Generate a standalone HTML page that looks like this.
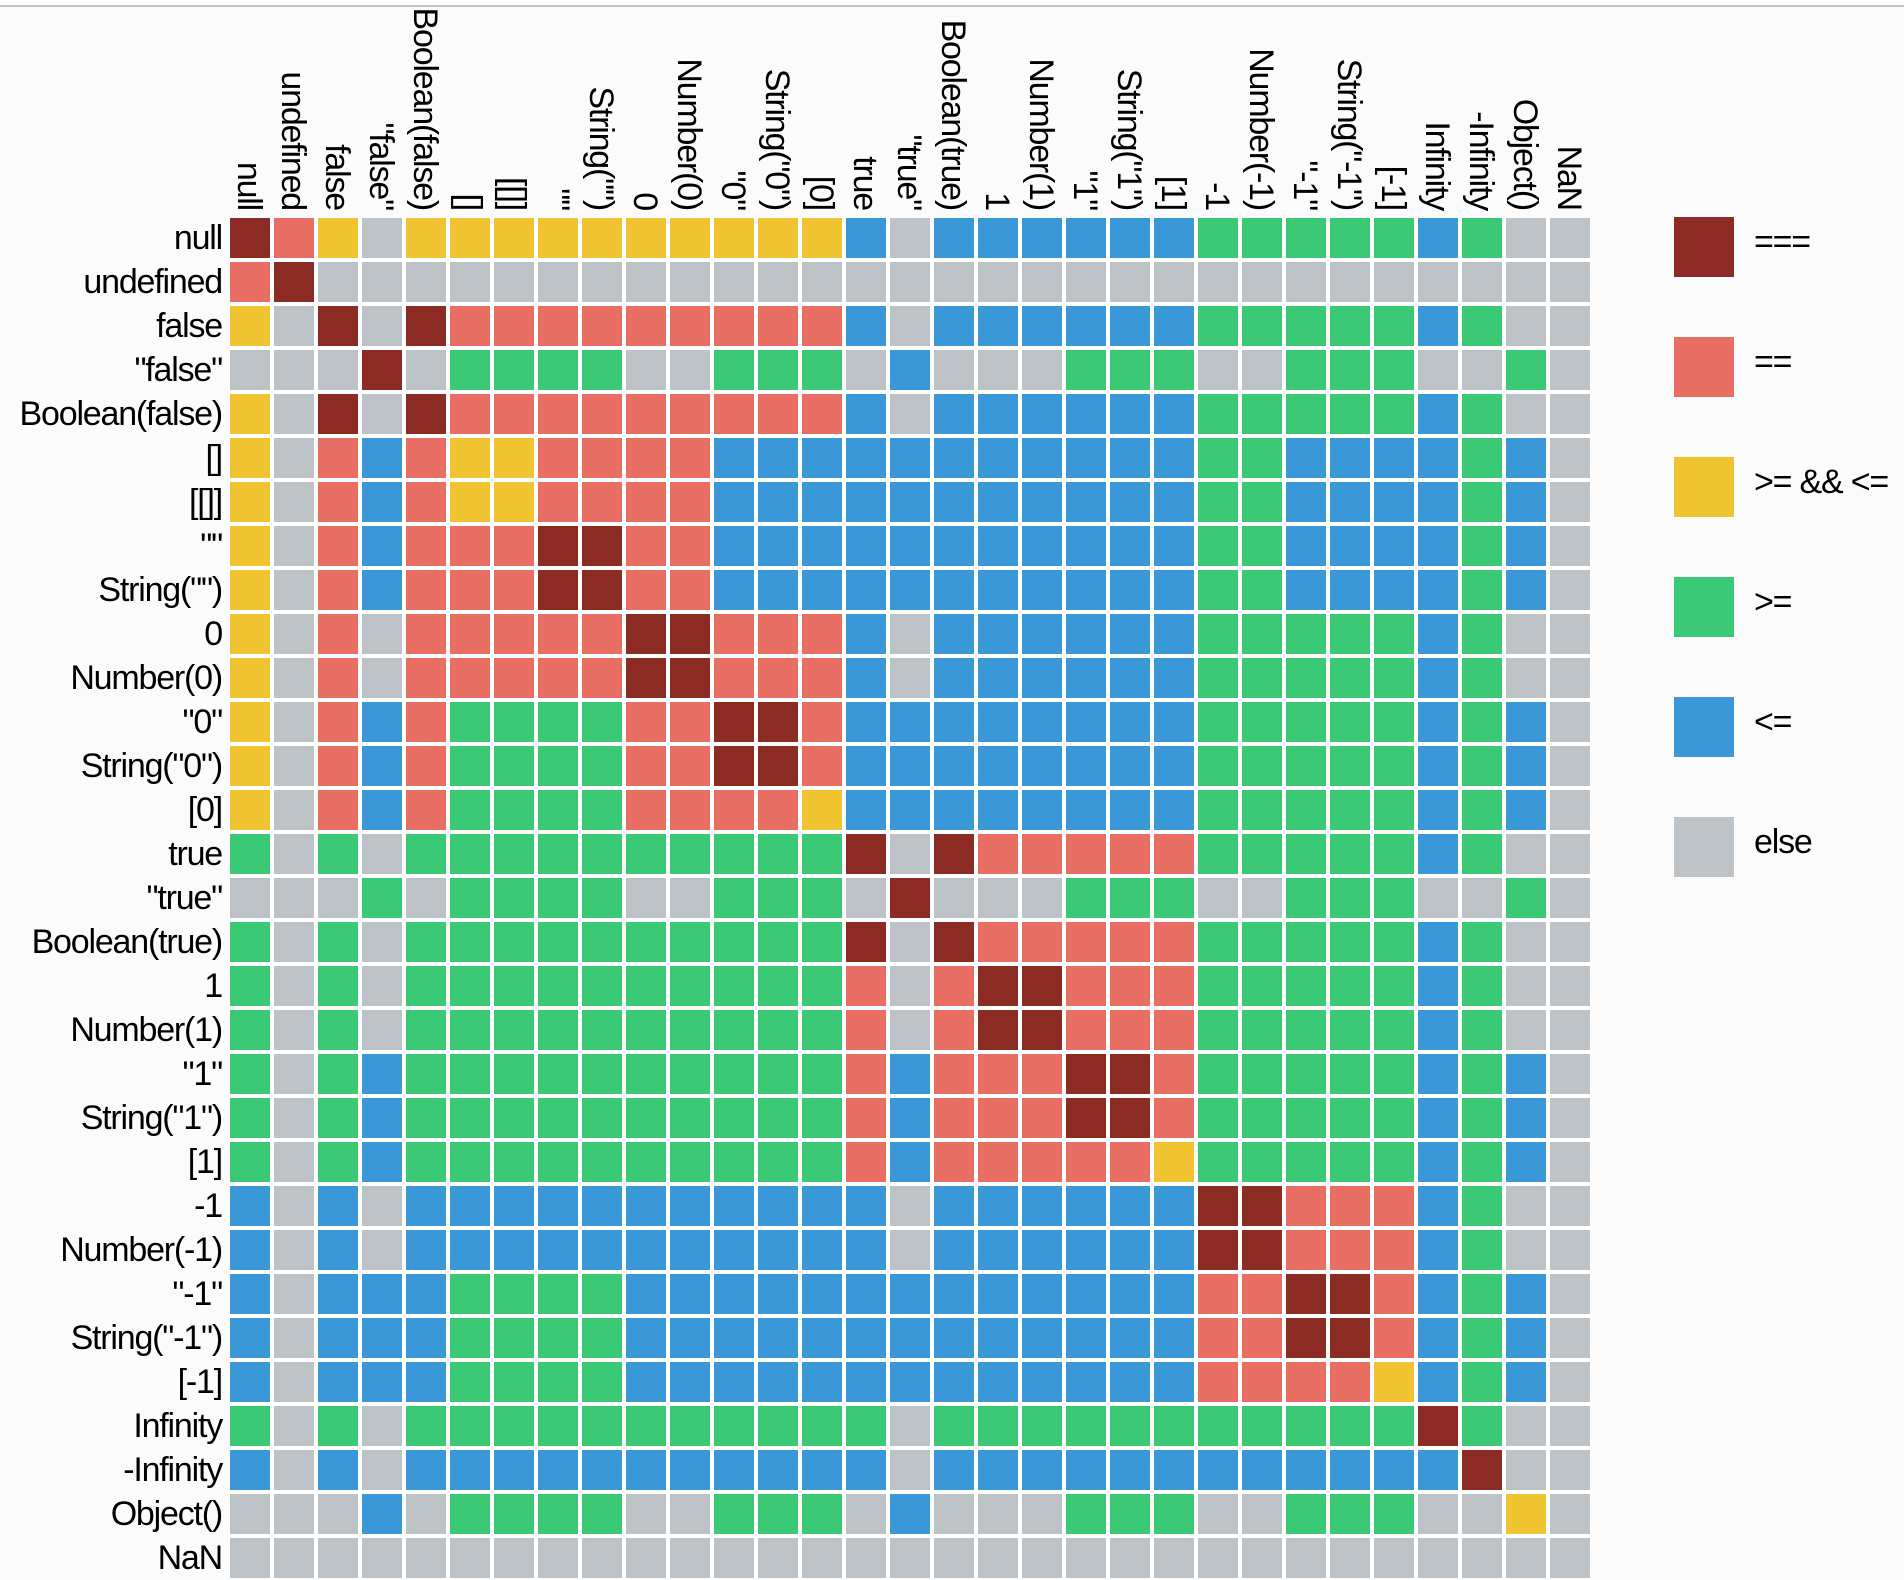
<!DOCTYPE html>
<html><head><meta charset="utf-8"><style>
html,body{margin:0;padding:0;}
body{width:1904px;height:1580px;background:#fbfbfb;position:relative;overflow:hidden;font-family:"Liberation Sans",Arial,sans-serif;color:#000;}
.top{position:absolute;left:0;top:0;width:1904px;height:5px;background:#fff;}
.line{position:absolute;left:0;top:5px;width:1904px;height:2px;background:#c2c2c2;}
.grid{position:absolute;left:230px;top:218px;width:1360px;height:1360px;background:#fff;display:grid;grid-template-columns:repeat(31,40px);grid-auto-rows:40px;gap:4px;}
.grid i{display:block;width:40px;height:40px;}
.D{background:#8c2a24}.R{background:#e86d63}.Y{background:#f0c330}.G{background:#3cc975}.B{background:#3a98d8}.X{background:#bdc3c7}
.rl{position:absolute;left:0;width:222px;height:40px;line-height:40px;text-align:right;font-size:34px;letter-spacing:-1.2px;white-space:nowrap;}
.cl{position:absolute;width:220px;height:40px;line-height:40px;text-align:right;font-size:34px;letter-spacing:-1.2px;white-space:nowrap;transform-origin:0 0;transform:rotate(90deg);}
.sw{position:absolute;left:1674px;width:60px;height:60px;}
.lt{position:absolute;left:1754px;height:50px;line-height:50px;font-size:34px;letter-spacing:-1.2px;white-space:nowrap;}
</style></head><body>
<div class="top"></div><div class="line"></div>

<!-- column labels: left = 230+44j+38.5, top = 210-220 = -10 -->
<div class="cl" style="left:268.5px;top:-10px">null</div>
<div class="cl" style="left:312.5px;top:-10px">undefined</div>
<div class="cl" style="left:356.5px;top:-10px">false</div>
<div class="cl" style="left:400.5px;top:-10px">"false"</div>
<div class="cl" style="left:444.5px;top:-10px">Boolean(false)</div>
<div class="cl" style="left:488.5px;top:-10px">[]</div>
<div class="cl" style="left:532.5px;top:-10px">[[]]</div>
<div class="cl" style="left:576.5px;top:-10px">""</div>
<div class="cl" style="left:620.5px;top:-10px">String("")</div>
<div class="cl" style="left:664.5px;top:-10px">0</div>
<div class="cl" style="left:708.5px;top:-10px">Number(0)</div>
<div class="cl" style="left:752.5px;top:-10px">"0"</div>
<div class="cl" style="left:796.5px;top:-10px">String("0")</div>
<div class="cl" style="left:840.5px;top:-10px">[0]</div>
<div class="cl" style="left:884.5px;top:-10px">true</div>
<div class="cl" style="left:928.5px;top:-10px">"true"</div>
<div class="cl" style="left:972.5px;top:-10px">Boolean(true)</div>
<div class="cl" style="left:1016.5px;top:-10px">1</div>
<div class="cl" style="left:1060.5px;top:-10px">Number(1)</div>
<div class="cl" style="left:1104.5px;top:-10px">"1"</div>
<div class="cl" style="left:1148.5px;top:-10px">String("1")</div>
<div class="cl" style="left:1192.5px;top:-10px">[1]</div>
<div class="cl" style="left:1236.5px;top:-10px">-1</div>
<div class="cl" style="left:1280.5px;top:-10px">Number(-1)</div>
<div class="cl" style="left:1324.5px;top:-10px">"-1"</div>
<div class="cl" style="left:1368.5px;top:-10px">String("-1")</div>
<div class="cl" style="left:1412.5px;top:-10px">[-1]</div>
<div class="cl" style="left:1456.5px;top:-10px">Infinity</div>
<div class="cl" style="left:1500.5px;top:-10px">-Infinity</div>
<div class="cl" style="left:1544.5px;top:-10px">Object()</div>
<div class="cl" style="left:1588.5px;top:-10px">NaN</div>

<!-- row labels: top = 218+44i -->
<div class="rl" style="top:218px">null</div>
<div class="rl" style="top:262px">undefined</div>
<div class="rl" style="top:306px">false</div>
<div class="rl" style="top:350px">"false"</div>
<div class="rl" style="top:394px">Boolean(false)</div>
<div class="rl" style="top:438px">[]</div>
<div class="rl" style="top:482px">[[]]</div>
<div class="rl" style="top:526px">""</div>
<div class="rl" style="top:570px">String("")</div>
<div class="rl" style="top:614px">0</div>
<div class="rl" style="top:658px">Number(0)</div>
<div class="rl" style="top:702px">"0"</div>
<div class="rl" style="top:746px">String("0")</div>
<div class="rl" style="top:790px">[0]</div>
<div class="rl" style="top:834px">true</div>
<div class="rl" style="top:878px">"true"</div>
<div class="rl" style="top:922px">Boolean(true)</div>
<div class="rl" style="top:966px">1</div>
<div class="rl" style="top:1010px">Number(1)</div>
<div class="rl" style="top:1054px">"1"</div>
<div class="rl" style="top:1098px">String("1")</div>
<div class="rl" style="top:1142px">[1]</div>
<div class="rl" style="top:1186px">-1</div>
<div class="rl" style="top:1230px">Number(-1)</div>
<div class="rl" style="top:1274px">"-1"</div>
<div class="rl" style="top:1318px">String("-1")</div>
<div class="rl" style="top:1362px">[-1]</div>
<div class="rl" style="top:1406px">Infinity</div>
<div class="rl" style="top:1450px">-Infinity</div>
<div class="rl" style="top:1494px">Object()</div>
<div class="rl" style="top:1538px">NaN</div>

<div class="grid">
<!-- null -->
<i class="D"></i><i class="R"></i><i class="Y"></i><i class="X"></i><i class="Y"></i><i class="Y"></i><i class="Y"></i><i class="Y"></i><i class="Y"></i><i class="Y"></i><i class="Y"></i><i class="Y"></i><i class="Y"></i><i class="Y"></i><i class="B"></i><i class="X"></i><i class="B"></i><i class="B"></i><i class="B"></i><i class="B"></i><i class="B"></i><i class="B"></i><i class="G"></i><i class="G"></i><i class="G"></i><i class="G"></i><i class="G"></i><i class="B"></i><i class="G"></i><i class="X"></i><i class="X"></i>
<!-- undefined -->
<i class="R"></i><i class="D"></i><i class="X"></i><i class="X"></i><i class="X"></i><i class="X"></i><i class="X"></i><i class="X"></i><i class="X"></i><i class="X"></i><i class="X"></i><i class="X"></i><i class="X"></i><i class="X"></i><i class="X"></i><i class="X"></i><i class="X"></i><i class="X"></i><i class="X"></i><i class="X"></i><i class="X"></i><i class="X"></i><i class="X"></i><i class="X"></i><i class="X"></i><i class="X"></i><i class="X"></i><i class="X"></i><i class="X"></i><i class="X"></i><i class="X"></i>
<!-- false -->
<i class="Y"></i><i class="X"></i><i class="D"></i><i class="X"></i><i class="D"></i><i class="R"></i><i class="R"></i><i class="R"></i><i class="R"></i><i class="R"></i><i class="R"></i><i class="R"></i><i class="R"></i><i class="R"></i><i class="B"></i><i class="X"></i><i class="B"></i><i class="B"></i><i class="B"></i><i class="B"></i><i class="B"></i><i class="B"></i><i class="G"></i><i class="G"></i><i class="G"></i><i class="G"></i><i class="G"></i><i class="B"></i><i class="G"></i><i class="X"></i><i class="X"></i>
<!-- "false" -->
<i class="X"></i><i class="X"></i><i class="X"></i><i class="D"></i><i class="X"></i><i class="G"></i><i class="G"></i><i class="G"></i><i class="G"></i><i class="X"></i><i class="X"></i><i class="G"></i><i class="G"></i><i class="G"></i><i class="X"></i><i class="B"></i><i class="X"></i><i class="X"></i><i class="X"></i><i class="G"></i><i class="G"></i><i class="G"></i><i class="X"></i><i class="X"></i><i class="G"></i><i class="G"></i><i class="G"></i><i class="X"></i><i class="X"></i><i class="G"></i><i class="X"></i>
<!-- Boolean(false) -->
<i class="Y"></i><i class="X"></i><i class="D"></i><i class="X"></i><i class="D"></i><i class="R"></i><i class="R"></i><i class="R"></i><i class="R"></i><i class="R"></i><i class="R"></i><i class="R"></i><i class="R"></i><i class="R"></i><i class="B"></i><i class="X"></i><i class="B"></i><i class="B"></i><i class="B"></i><i class="B"></i><i class="B"></i><i class="B"></i><i class="G"></i><i class="G"></i><i class="G"></i><i class="G"></i><i class="G"></i><i class="B"></i><i class="G"></i><i class="X"></i><i class="X"></i>
<!-- [] -->
<i class="Y"></i><i class="X"></i><i class="R"></i><i class="B"></i><i class="R"></i><i class="Y"></i><i class="Y"></i><i class="R"></i><i class="R"></i><i class="R"></i><i class="R"></i><i class="B"></i><i class="B"></i><i class="B"></i><i class="B"></i><i class="B"></i><i class="B"></i><i class="B"></i><i class="B"></i><i class="B"></i><i class="B"></i><i class="B"></i><i class="G"></i><i class="G"></i><i class="B"></i><i class="B"></i><i class="B"></i><i class="B"></i><i class="G"></i><i class="B"></i><i class="X"></i>
<!-- [[]] -->
<i class="Y"></i><i class="X"></i><i class="R"></i><i class="B"></i><i class="R"></i><i class="Y"></i><i class="Y"></i><i class="R"></i><i class="R"></i><i class="R"></i><i class="R"></i><i class="B"></i><i class="B"></i><i class="B"></i><i class="B"></i><i class="B"></i><i class="B"></i><i class="B"></i><i class="B"></i><i class="B"></i><i class="B"></i><i class="B"></i><i class="G"></i><i class="G"></i><i class="B"></i><i class="B"></i><i class="B"></i><i class="B"></i><i class="G"></i><i class="B"></i><i class="X"></i>
<!-- "" -->
<i class="Y"></i><i class="X"></i><i class="R"></i><i class="B"></i><i class="R"></i><i class="R"></i><i class="R"></i><i class="D"></i><i class="D"></i><i class="R"></i><i class="R"></i><i class="B"></i><i class="B"></i><i class="B"></i><i class="B"></i><i class="B"></i><i class="B"></i><i class="B"></i><i class="B"></i><i class="B"></i><i class="B"></i><i class="B"></i><i class="G"></i><i class="G"></i><i class="B"></i><i class="B"></i><i class="B"></i><i class="B"></i><i class="G"></i><i class="B"></i><i class="X"></i>
<!-- String("") -->
<i class="Y"></i><i class="X"></i><i class="R"></i><i class="B"></i><i class="R"></i><i class="R"></i><i class="R"></i><i class="D"></i><i class="D"></i><i class="R"></i><i class="R"></i><i class="B"></i><i class="B"></i><i class="B"></i><i class="B"></i><i class="B"></i><i class="B"></i><i class="B"></i><i class="B"></i><i class="B"></i><i class="B"></i><i class="B"></i><i class="G"></i><i class="G"></i><i class="B"></i><i class="B"></i><i class="B"></i><i class="B"></i><i class="G"></i><i class="B"></i><i class="X"></i>
<!-- 0 -->
<i class="Y"></i><i class="X"></i><i class="R"></i><i class="X"></i><i class="R"></i><i class="R"></i><i class="R"></i><i class="R"></i><i class="R"></i><i class="D"></i><i class="D"></i><i class="R"></i><i class="R"></i><i class="R"></i><i class="B"></i><i class="X"></i><i class="B"></i><i class="B"></i><i class="B"></i><i class="B"></i><i class="B"></i><i class="B"></i><i class="G"></i><i class="G"></i><i class="G"></i><i class="G"></i><i class="G"></i><i class="B"></i><i class="G"></i><i class="X"></i><i class="X"></i>
<!-- Number(0) -->
<i class="Y"></i><i class="X"></i><i class="R"></i><i class="X"></i><i class="R"></i><i class="R"></i><i class="R"></i><i class="R"></i><i class="R"></i><i class="D"></i><i class="D"></i><i class="R"></i><i class="R"></i><i class="R"></i><i class="B"></i><i class="X"></i><i class="B"></i><i class="B"></i><i class="B"></i><i class="B"></i><i class="B"></i><i class="B"></i><i class="G"></i><i class="G"></i><i class="G"></i><i class="G"></i><i class="G"></i><i class="B"></i><i class="G"></i><i class="X"></i><i class="X"></i>
<!-- "0" -->
<i class="Y"></i><i class="X"></i><i class="R"></i><i class="B"></i><i class="R"></i><i class="G"></i><i class="G"></i><i class="G"></i><i class="G"></i><i class="R"></i><i class="R"></i><i class="D"></i><i class="D"></i><i class="R"></i><i class="B"></i><i class="B"></i><i class="B"></i><i class="B"></i><i class="B"></i><i class="B"></i><i class="B"></i><i class="B"></i><i class="G"></i><i class="G"></i><i class="G"></i><i class="G"></i><i class="G"></i><i class="B"></i><i class="G"></i><i class="B"></i><i class="X"></i>
<!-- String("0") -->
<i class="Y"></i><i class="X"></i><i class="R"></i><i class="B"></i><i class="R"></i><i class="G"></i><i class="G"></i><i class="G"></i><i class="G"></i><i class="R"></i><i class="R"></i><i class="D"></i><i class="D"></i><i class="R"></i><i class="B"></i><i class="B"></i><i class="B"></i><i class="B"></i><i class="B"></i><i class="B"></i><i class="B"></i><i class="B"></i><i class="G"></i><i class="G"></i><i class="G"></i><i class="G"></i><i class="G"></i><i class="B"></i><i class="G"></i><i class="B"></i><i class="X"></i>
<!-- [0] -->
<i class="Y"></i><i class="X"></i><i class="R"></i><i class="B"></i><i class="R"></i><i class="G"></i><i class="G"></i><i class="G"></i><i class="G"></i><i class="R"></i><i class="R"></i><i class="R"></i><i class="R"></i><i class="Y"></i><i class="B"></i><i class="B"></i><i class="B"></i><i class="B"></i><i class="B"></i><i class="B"></i><i class="B"></i><i class="B"></i><i class="G"></i><i class="G"></i><i class="G"></i><i class="G"></i><i class="G"></i><i class="B"></i><i class="G"></i><i class="B"></i><i class="X"></i>
<!-- true -->
<i class="G"></i><i class="X"></i><i class="G"></i><i class="X"></i><i class="G"></i><i class="G"></i><i class="G"></i><i class="G"></i><i class="G"></i><i class="G"></i><i class="G"></i><i class="G"></i><i class="G"></i><i class="G"></i><i class="D"></i><i class="X"></i><i class="D"></i><i class="R"></i><i class="R"></i><i class="R"></i><i class="R"></i><i class="R"></i><i class="G"></i><i class="G"></i><i class="G"></i><i class="G"></i><i class="G"></i><i class="B"></i><i class="G"></i><i class="X"></i><i class="X"></i>
<!-- "true" -->
<i class="X"></i><i class="X"></i><i class="X"></i><i class="G"></i><i class="X"></i><i class="G"></i><i class="G"></i><i class="G"></i><i class="G"></i><i class="X"></i><i class="X"></i><i class="G"></i><i class="G"></i><i class="G"></i><i class="X"></i><i class="D"></i><i class="X"></i><i class="X"></i><i class="X"></i><i class="G"></i><i class="G"></i><i class="G"></i><i class="X"></i><i class="X"></i><i class="G"></i><i class="G"></i><i class="G"></i><i class="X"></i><i class="X"></i><i class="G"></i><i class="X"></i>
<!-- Boolean(true) -->
<i class="G"></i><i class="X"></i><i class="G"></i><i class="X"></i><i class="G"></i><i class="G"></i><i class="G"></i><i class="G"></i><i class="G"></i><i class="G"></i><i class="G"></i><i class="G"></i><i class="G"></i><i class="G"></i><i class="D"></i><i class="X"></i><i class="D"></i><i class="R"></i><i class="R"></i><i class="R"></i><i class="R"></i><i class="R"></i><i class="G"></i><i class="G"></i><i class="G"></i><i class="G"></i><i class="G"></i><i class="B"></i><i class="G"></i><i class="X"></i><i class="X"></i>
<!-- 1 -->
<i class="G"></i><i class="X"></i><i class="G"></i><i class="X"></i><i class="G"></i><i class="G"></i><i class="G"></i><i class="G"></i><i class="G"></i><i class="G"></i><i class="G"></i><i class="G"></i><i class="G"></i><i class="G"></i><i class="R"></i><i class="X"></i><i class="R"></i><i class="D"></i><i class="D"></i><i class="R"></i><i class="R"></i><i class="R"></i><i class="G"></i><i class="G"></i><i class="G"></i><i class="G"></i><i class="G"></i><i class="B"></i><i class="G"></i><i class="X"></i><i class="X"></i>
<!-- Number(1) -->
<i class="G"></i><i class="X"></i><i class="G"></i><i class="X"></i><i class="G"></i><i class="G"></i><i class="G"></i><i class="G"></i><i class="G"></i><i class="G"></i><i class="G"></i><i class="G"></i><i class="G"></i><i class="G"></i><i class="R"></i><i class="X"></i><i class="R"></i><i class="D"></i><i class="D"></i><i class="R"></i><i class="R"></i><i class="R"></i><i class="G"></i><i class="G"></i><i class="G"></i><i class="G"></i><i class="G"></i><i class="B"></i><i class="G"></i><i class="X"></i><i class="X"></i>
<!-- "1" -->
<i class="G"></i><i class="X"></i><i class="G"></i><i class="B"></i><i class="G"></i><i class="G"></i><i class="G"></i><i class="G"></i><i class="G"></i><i class="G"></i><i class="G"></i><i class="G"></i><i class="G"></i><i class="G"></i><i class="R"></i><i class="B"></i><i class="R"></i><i class="R"></i><i class="R"></i><i class="D"></i><i class="D"></i><i class="R"></i><i class="G"></i><i class="G"></i><i class="G"></i><i class="G"></i><i class="G"></i><i class="B"></i><i class="G"></i><i class="B"></i><i class="X"></i>
<!-- String("1") -->
<i class="G"></i><i class="X"></i><i class="G"></i><i class="B"></i><i class="G"></i><i class="G"></i><i class="G"></i><i class="G"></i><i class="G"></i><i class="G"></i><i class="G"></i><i class="G"></i><i class="G"></i><i class="G"></i><i class="R"></i><i class="B"></i><i class="R"></i><i class="R"></i><i class="R"></i><i class="D"></i><i class="D"></i><i class="R"></i><i class="G"></i><i class="G"></i><i class="G"></i><i class="G"></i><i class="G"></i><i class="B"></i><i class="G"></i><i class="B"></i><i class="X"></i>
<!-- [1] -->
<i class="G"></i><i class="X"></i><i class="G"></i><i class="B"></i><i class="G"></i><i class="G"></i><i class="G"></i><i class="G"></i><i class="G"></i><i class="G"></i><i class="G"></i><i class="G"></i><i class="G"></i><i class="G"></i><i class="R"></i><i class="B"></i><i class="R"></i><i class="R"></i><i class="R"></i><i class="R"></i><i class="R"></i><i class="Y"></i><i class="G"></i><i class="G"></i><i class="G"></i><i class="G"></i><i class="G"></i><i class="B"></i><i class="G"></i><i class="B"></i><i class="X"></i>
<!-- -1 -->
<i class="B"></i><i class="X"></i><i class="B"></i><i class="X"></i><i class="B"></i><i class="B"></i><i class="B"></i><i class="B"></i><i class="B"></i><i class="B"></i><i class="B"></i><i class="B"></i><i class="B"></i><i class="B"></i><i class="B"></i><i class="X"></i><i class="B"></i><i class="B"></i><i class="B"></i><i class="B"></i><i class="B"></i><i class="B"></i><i class="D"></i><i class="D"></i><i class="R"></i><i class="R"></i><i class="R"></i><i class="B"></i><i class="G"></i><i class="X"></i><i class="X"></i>
<!-- Number(-1) -->
<i class="B"></i><i class="X"></i><i class="B"></i><i class="X"></i><i class="B"></i><i class="B"></i><i class="B"></i><i class="B"></i><i class="B"></i><i class="B"></i><i class="B"></i><i class="B"></i><i class="B"></i><i class="B"></i><i class="B"></i><i class="X"></i><i class="B"></i><i class="B"></i><i class="B"></i><i class="B"></i><i class="B"></i><i class="B"></i><i class="D"></i><i class="D"></i><i class="R"></i><i class="R"></i><i class="R"></i><i class="B"></i><i class="G"></i><i class="X"></i><i class="X"></i>
<!-- "-1" -->
<i class="B"></i><i class="X"></i><i class="B"></i><i class="B"></i><i class="B"></i><i class="G"></i><i class="G"></i><i class="G"></i><i class="G"></i><i class="B"></i><i class="B"></i><i class="B"></i><i class="B"></i><i class="B"></i><i class="B"></i><i class="B"></i><i class="B"></i><i class="B"></i><i class="B"></i><i class="B"></i><i class="B"></i><i class="B"></i><i class="R"></i><i class="R"></i><i class="D"></i><i class="D"></i><i class="R"></i><i class="B"></i><i class="G"></i><i class="B"></i><i class="X"></i>
<!-- String("-1") -->
<i class="B"></i><i class="X"></i><i class="B"></i><i class="B"></i><i class="B"></i><i class="G"></i><i class="G"></i><i class="G"></i><i class="G"></i><i class="B"></i><i class="B"></i><i class="B"></i><i class="B"></i><i class="B"></i><i class="B"></i><i class="B"></i><i class="B"></i><i class="B"></i><i class="B"></i><i class="B"></i><i class="B"></i><i class="B"></i><i class="R"></i><i class="R"></i><i class="D"></i><i class="D"></i><i class="R"></i><i class="B"></i><i class="G"></i><i class="B"></i><i class="X"></i>
<!-- [-1] -->
<i class="B"></i><i class="X"></i><i class="B"></i><i class="B"></i><i class="B"></i><i class="G"></i><i class="G"></i><i class="G"></i><i class="G"></i><i class="B"></i><i class="B"></i><i class="B"></i><i class="B"></i><i class="B"></i><i class="B"></i><i class="B"></i><i class="B"></i><i class="B"></i><i class="B"></i><i class="B"></i><i class="B"></i><i class="B"></i><i class="R"></i><i class="R"></i><i class="R"></i><i class="R"></i><i class="Y"></i><i class="B"></i><i class="G"></i><i class="B"></i><i class="X"></i>
<!-- Infinity -->
<i class="G"></i><i class="X"></i><i class="G"></i><i class="X"></i><i class="G"></i><i class="G"></i><i class="G"></i><i class="G"></i><i class="G"></i><i class="G"></i><i class="G"></i><i class="G"></i><i class="G"></i><i class="G"></i><i class="G"></i><i class="X"></i><i class="G"></i><i class="G"></i><i class="G"></i><i class="G"></i><i class="G"></i><i class="G"></i><i class="G"></i><i class="G"></i><i class="G"></i><i class="G"></i><i class="G"></i><i class="D"></i><i class="G"></i><i class="X"></i><i class="X"></i>
<!-- -Infinity -->
<i class="B"></i><i class="X"></i><i class="B"></i><i class="X"></i><i class="B"></i><i class="B"></i><i class="B"></i><i class="B"></i><i class="B"></i><i class="B"></i><i class="B"></i><i class="B"></i><i class="B"></i><i class="B"></i><i class="B"></i><i class="X"></i><i class="B"></i><i class="B"></i><i class="B"></i><i class="B"></i><i class="B"></i><i class="B"></i><i class="B"></i><i class="B"></i><i class="B"></i><i class="B"></i><i class="B"></i><i class="B"></i><i class="D"></i><i class="X"></i><i class="X"></i>
<!-- Object() -->
<i class="X"></i><i class="X"></i><i class="X"></i><i class="B"></i><i class="X"></i><i class="G"></i><i class="G"></i><i class="G"></i><i class="G"></i><i class="X"></i><i class="X"></i><i class="G"></i><i class="G"></i><i class="G"></i><i class="X"></i><i class="B"></i><i class="X"></i><i class="X"></i><i class="X"></i><i class="G"></i><i class="G"></i><i class="G"></i><i class="X"></i><i class="X"></i><i class="G"></i><i class="G"></i><i class="G"></i><i class="X"></i><i class="X"></i><i class="Y"></i><i class="X"></i>
<!-- NaN -->
<i class="X"></i><i class="X"></i><i class="X"></i><i class="X"></i><i class="X"></i><i class="X"></i><i class="X"></i><i class="X"></i><i class="X"></i><i class="X"></i><i class="X"></i><i class="X"></i><i class="X"></i><i class="X"></i><i class="X"></i><i class="X"></i><i class="X"></i><i class="X"></i><i class="X"></i><i class="X"></i><i class="X"></i><i class="X"></i><i class="X"></i><i class="X"></i><i class="X"></i><i class="X"></i><i class="X"></i><i class="X"></i><i class="X"></i><i class="X"></i><i class="X"></i>
</div>

<!-- legend -->
<div class="sw D" style="top:217px"></div><div class="lt" style="top:217px">===</div>
<div class="sw R" style="top:337px"></div><div class="lt" style="top:337px">==</div>
<div class="sw Y" style="top:457px"></div><div class="lt" style="top:457px">&gt;= &amp;&amp; &lt;=</div>
<div class="sw G" style="top:577px"></div><div class="lt" style="top:577px">&gt;=</div>
<div class="sw B" style="top:697px"></div><div class="lt" style="top:697px">&lt;=</div>
<div class="sw X" style="top:817px"></div><div class="lt" style="top:817px">else</div>
</body></html>
